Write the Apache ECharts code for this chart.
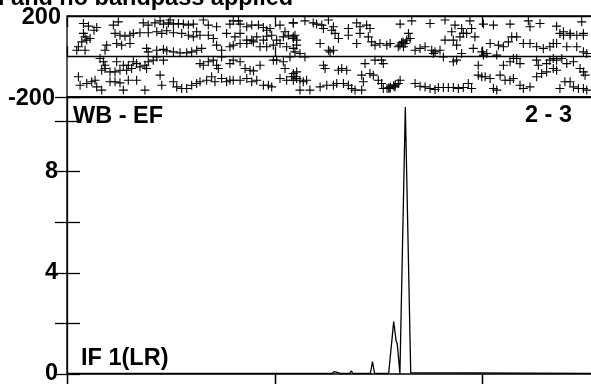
<!DOCTYPE html>
<html><head><meta charset="utf-8">
<script src="https://cdn.jsdelivr.net/npm/echarts@6/dist/echarts.min.js"></script>
<style>html,body{margin:0;padding:0;background:#fff}#c{width:591px;height:384px}</style>
</head><body><div id="c"></div>
<script>
// ---- data ----
var titleText = 'l and no bandpass applied';
var baselineLabel = 'WB - EF';
var baselineRight = '2 - 3';
var ifLabel = 'IF 1(LR)';
var nChan = 256;
var chanTicks = [0, 100, 200];
var ampTickLabels = [0, 4, 8];
var phaseTickLabels = [-200, 200];

// amplitude spectrum (channel, amplitude)
var specChan = [0, 127.5, 128.5, 129.3, 130.5, 131.5, 136, 136.8, 137.6, 142.5, 143.3, 144, 146, 147, 148, 150.5, 151.1, 151.7, 154.8, 157.2, 158.0, 158.4, 158.9, 160.2, 162.8, 165.4, 166, 256];
var specAmp  = [0.02, 0.02, 0.09, 0.02, 0.05, 0.02, 0.02, 0.12, 0.02, 0.02, 0.05, 0.02, 0.02, 0.49, 0.03, 0.02, 0.06, 0.02, 0.03, 2.07, 1.55, 1.3, 1.2, 0.02, 10.55, 0.05, 0.02, 0.02];

// phase (channel, degrees)
var phaseData = [
[7.9,163],[10.3,150],[14.3,143],[13.0,130],[22.3,155],[24.7,171],[36.7,166],[39.1,155],[42.3,166],[44.8,176],[46.4,160],[48.8,166],[49.6,180],[51.2,160],[53.6,163],[56.0,160],[58.4,155],[60.8,160],[65.6,180],[68.0,155],[72.0,147],[78.4,160],[80.0,176],[82.5,176],[83.3,160],[86.5,147],[88.9,155],[92.1,155],[94.5,143],[96.1,130],[97.7,138],[102.5,155],[104.9,122],[108.9,166],[109.7,105],
[7.9,114],[8.7,97],[9.5,81],[11.1,89],[7.1,72],[23.1,114],[25.5,105],[27.9,100],[30.3,105],[31.9,114],[35.1,117],[39.1,117],[43.2,122],[45.6,114],[48.0,127],[51.2,117],[55.2,114],[58.4,105],[60.8,97],[64.0,105],[62.4,122],[68.0,105],[70.4,89],[76.8,114],[80.8,97],[83.3,114],[86.5,81],[88.9,81],[91.3,97],[94.5,81],[96.1,100],[98.5,105],[100.9,81],[104.1,97],[106.5,105],[108.9,89],[110.5,56],
[5.5,48],[4.7,31],[8.7,31],[19.1,56],[18.3,31],[23.9,64],[26.3,56],[30.3,64],[38.3,40],[39.1,23],[43.2,31],[46.4,35],[48.0,28],[51.2,23],[54.4,18],[57.6,18],[60.0,23],[62.4,31],[64.8,40],[72.0,56],[74.4,31],[78.4,48],[80.0,56],[83.3,64],[86.5,64],[89.7,72],[92.9,48],[96.1,48],[99.3,56],[102.5,64],[105.7,48],[108.9,40],[109.7,23],
[15.9,-10],[17.5,-26],[18.3,-43],[18.3,-59],[16.7,-68],[23.9,-26],[27.1,-43],[29.5,-43],[31.9,-26],[33.5,-35],[35.1,-51],[37.5,-43],[38.3,-59],[39.1,-26],[41.5,-18],[43.2,-2],[46.4,-18],[20.7,-76],[23.1,-76],[25.5,-68],[28.7,-68],[31.1,-59],[64.0,-35],[65.6,-43],[68.0,-26],[70.4,-18],[72.0,-43],[72.8,-59],[74.4,-2],[78.4,-35],[80.0,-18],[83.3,-26],[85.7,-59],[88.1,-68],[89.7,-71],[92.9,-43],[99.3,-18],[100.9,-18],[104.1,-26],[104.9,-59],[107.3,-2],[108.9,-84],[110.5,-76],
[5.5,-100],[6.3,-142],[9.5,-133],[11.9,-125],[13.5,-117],[14.3,-150],[16.7,-166],[20.7,-125],[23.1,-125],[25.5,-130],[27.1,-166],[29.5,-117],[33.5,-117],[37.5,-166],[44.8,-92],[45.6,-142],[51.2,-125],[52.8,-150],[55.2,-158],[57.6,-158],[60.0,-142],[62.4,-133],[64.0,-125],[67.2,-117],[69.6,-100],[71.2,-125],[74.4,-109],[76.8,-125],[78.4,-117],[80.0,-117],[83.3,-117],[86.5,-109],[88.9,-125],[91.3,-117],[94.5,-142],[96.9,-142],[98.5,-150],[102.5,-109],[105.7,-117],[108.9,-117],[109.7,-100],
[108.9,166],[114.5,176],[118.5,166],[120.1,160],[122.6,155],[125.8,180],[123.4,138],[127.4,130],[128.2,147],[129.0,114],[135.4,138],[139.4,166],[141.0,147],[144.2,155],[145.8,138],[160.3,160],[165.9,176],[174.7,163],[181.9,180],[186.7,155],[189.9,138],[193.9,176],[200.4,160],[205.2,155],[213.2,160],[222.0,176],[222.8,147],[227.6,163],[235.6,150],[238.9,122],[242.1,114],[247.7,171],[248.5,114],
[110.5,81],[108.9,97],[121.8,64],[125.8,31],[126.6,23],[128.2,31],[130.6,89],[135.4,105],[139.4,64],[141.0,114],[145.0,97],[146.6,72],[148.2,56],[150.6,64],[153.9,56],[155.5,64],[161.9,48],[162.7,64],[163.5,81],[164.3,114],[165.1,89],[167.5,31],[169.9,40],[172.3,48],[175.5,31],[177.1,23],[179.5,31],[181.9,81],[185.1,122],[185.9,81],[187.5,56],[189.1,97],[190.7,114],[192.3,114],[194.7,138],[196.3,97],[195.5,40],[199.6,23],[203.6,64],[207.6,56],[210.0,48],[212.4,72],[214.0,97],[216.4,97],[219.6,64],[222.8,64],[226.0,48],[229.2,40],[232.4,48],[234.0,64],[237.2,114],[238.9,105],[242.1,105],[245.3,105],[248.5,105],[235.6,64],[240.5,48],[245.3,48],[248.5,23],[250.1,15],
[159.4,48],[160.2,56],[161.0,68],[161.7,72],
[112.1,15],[114.5,-2],[123.4,-43],[124.2,-59],[130.6,-68],[132.2,-59],[134.6,-68],[143.4,-35],[148.2,-18],[151.4,-18],[152.2,-35],[141.8,-92],[145.8,-84],[176.3,15],[181.1,-2],[185.9,-26],[187.5,-18],[189.9,15],[197.9,-43],[200.4,7],[202.0,15],[206.8,7],[210.0,-43],[213.2,-26],[214.8,-10],[218.0,-35],[216.4,-10],[226.0,-18],[226.8,-43],[230.8,-35],[232.4,-18],[234.0,-10],[235.6,-18],[238.1,-10],[240.5,-35],[243.7,-26],[246.9,-59],[248.5,-76],[249.3,-92],
[108.1,-100],[110.5,-109],[112.1,-117],[113.7,-125],[115.3,-117],[112.1,-166],[116.9,-166],[121.8,-150],[125.0,-142],[128.2,-142],[129.8,-133],[133.0,-133],[135.4,-142],[137.0,-158],[138.6,-166],[141.8,-166],[142.6,-125],[147.4,-92],[149.8,-117],[151.4,-133],[152.2,-158],[155.4,-158],[157.8,-150],[159.4,-133],[160.3,-117],[167.5,-133],[169.9,-147],[172.3,-150],[174.7,-158],[177.1,-163],[178.7,-153],[181.1,-153],[183.5,-153],[185.9,-153],[188.3,-158],[190.7,-153],[193.1,-133],[194.7,-158],[197.9,-92],[199.6,-100],[201.2,-100],[203.6,-109],[205.2,-158],[206.8,-166],[208.4,-92],[210.8,-117],[213.2,-117],[214.8,-109],[218.0,-142],[219.6,-158],[222.8,-150],[226.0,-100],[228.4,-84],[230.8,-76],[234.0,-59],[235.6,-68],[237.2,-158],[239.6,-125],[242.1,-125],[243.7,-150],[246.1,-158],[248.5,-158],[250.1,-166],
[154.0,-158],[154.8,-155],[155.6,-150],[157.2,-145],[158.0,-140]
];

// ---- chart ----
var FONT = '"Liberation Sans", Arial, sans-serif';
var chart = echarts.init(document.getElementById('c'), null, {renderer: 'canvas'});
var specData = specChan.map(function (c, i) { return [c, specAmp[i]]; });
function xAx(grid, pos, inside, len) {
  return {type: 'value', gridIndex: grid, position: pos, min: 0, max: nChan, interval: 100,
    axisLine: {show: false}, splitLine: {show: false}, axisLabel: {show: false},
    axisTick: {show: true, inside: inside, length: len, lineStyle: {color: '#000', width: 1.3}}};
}
chart.setOption({
  animation: false,
  backgroundColor: '#fff',
  grid: [
    {left: 67, right: -8, top: 16, height: 81, show: true, borderColor: '#000', borderWidth: 1.3, backgroundColor: 'transparent', outerBoundsMode: 'none', containLabel: false},
    {left: 67, right: -8, top: 97, bottom: 10, show: true, borderColor: '#000', borderWidth: 1.3, backgroundColor: 'transparent', outerBoundsMode: 'none', containLabel: false}
  ],
  xAxis: [xAx(0, 'bottom', true, 10), xAx(0, 'top', true, 11), xAx(1, 'bottom', false, 10), xAx(1, 'top', true, 12)],
  yAxis: [
    {type: 'value', gridIndex: 0, min: -200, max: 200, interval: 200,
      axisLine: {show: false}, axisTick: {show: false},
      splitLine: {show: true, lineStyle: {color: '#000', width: 1.3}},
      axisLabel: {margin: 6, formatter: function (v) {
          if (phaseTickLabels.indexOf(v) < 0) return '';
          return v > 0 ? '{a|' + v + '}' : '{b|' + v + '}';
        },
        rich: {a: {fontFamily: FONT, fontWeight: 'bold', fontSize: 23.5, color: '#000', padding: [3, 0, 0, 0]},
               b: {fontFamily: FONT, fontWeight: 'bold', fontSize: 23.5, color: '#000', padding: [3, 6, 0, 0]}}}},
    {type: 'value', gridIndex: 1, min: 0, max: 10.95, interval: 2, position: 'left',
      axisLine: {show: true, lineStyle: {color: '#000', width: 1.3}},
      axisTick: {show: true, inside: true, length: 13, lineStyle: {color: '#000', width: 1.3}},
      splitLine: {show: false},
      axisLabel: {margin: 9, fontFamily: FONT, fontWeight: 'bold', fontSize: 23.5, color: '#000', padding: [4, 0, 0, 0],
        formatter: function (v) { return ampTickLabels.indexOf(v) >= 0 ? String(v) : ''; }}},
    {type: 'value', gridIndex: 1, min: 0, max: 10.95, interval: 2, position: 'right',
      axisLine: {show: false},
      axisTick: {show: true, inside: true, length: 12, lineStyle: {color: '#000', width: 1.3}},
      splitLine: {show: false}, axisLabel: {show: false}}
  ],
  series: [
    {type: 'scatter', xAxisIndex: 0, yAxisIndex: 0, data: phaseData,
      symbol: 'path://M5,0L5,10M0,5L10,5', symbolSize: 9, symbolKeepAspect: true,
      itemStyle: {color: 'none', borderColor: '#000', borderWidth: 1.1, opacity: 1},
      emphasis: {disabled: true}, silent: true},
    {type: 'line', xAxisIndex: 2, yAxisIndex: 1, data: specData, showSymbol: false, symbol: 'none',
      lineStyle: {color: '#000', width: 1.3}, silent: true}
  ],
  graphic: [
    {type: 'text', left: -2, top: -13, style: {text: titleText, font: 'bold 23.5px ' + FONT, fill: '#000'}},
    {type: 'text', x: 73, y: 116.5, style: {text: baselineLabel, font: 'bold 23.5px ' + FONT, fill: '#000', verticalAlign: 'middle'}},
    {type: 'text', x: 572, y: 115.5, style: {text: baselineRight, font: 'bold 23.5px ' + FONT, fill: '#000', align: 'right', verticalAlign: 'middle'}},
    {type: 'text', x: 81, y: 358.5, style: {text: ifLabel, font: 'bold 23.5px ' + FONT, fill: '#000', verticalAlign: 'middle'}}
  ]
});
</script></body></html>
